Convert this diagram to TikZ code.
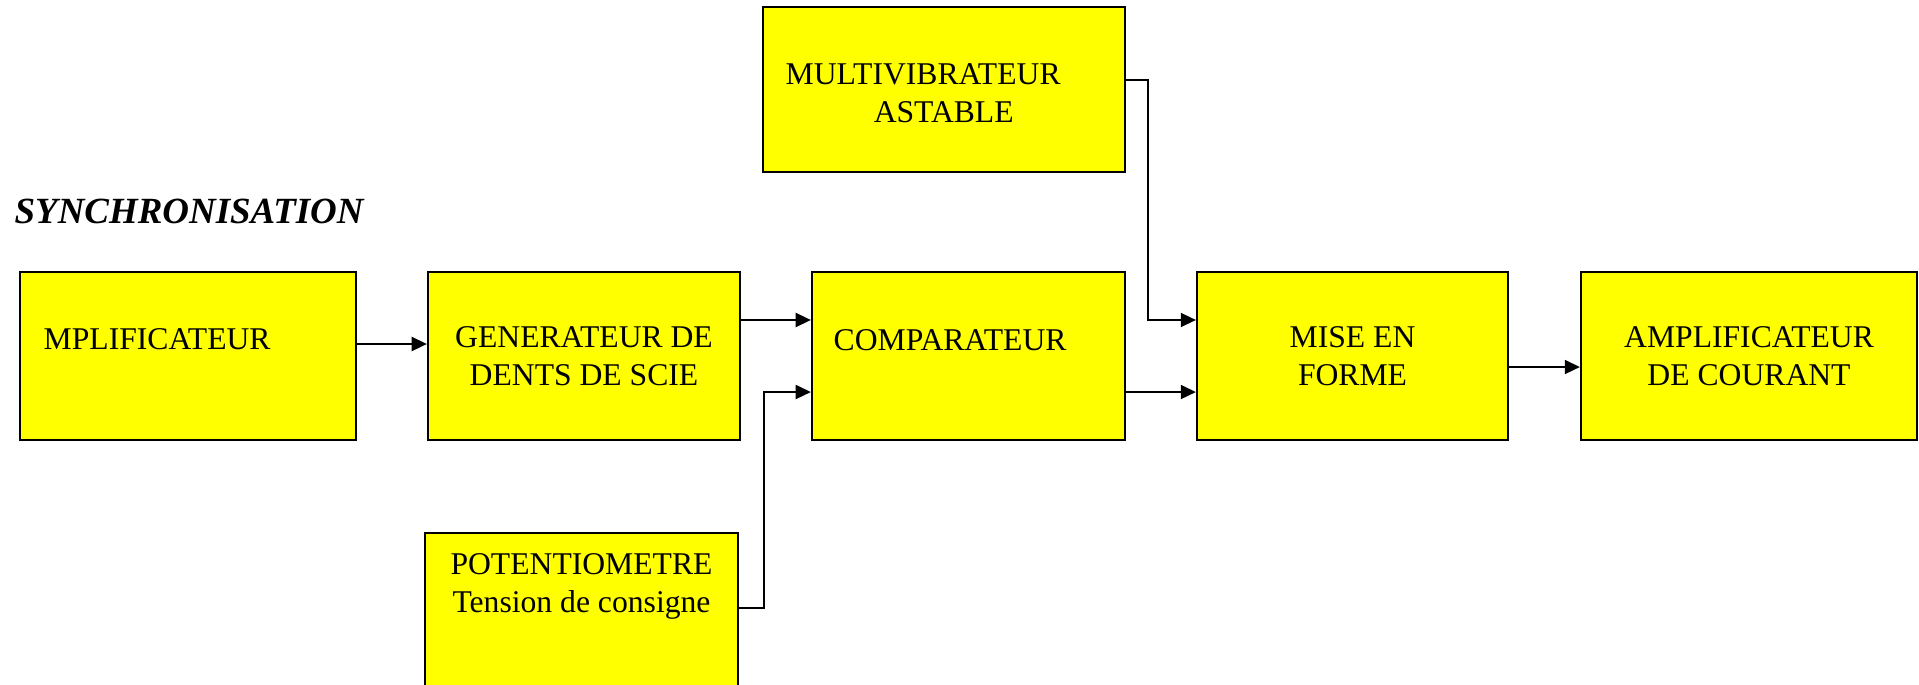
\documentclass[tikz,border=0pt]{standalone}
\usepackage{fontspec}
\setmainfont{Liberation Serif}
\usetikzlibrary{arrows.meta}
\definecolor{boxyellow}{RGB}{255,255,0}
\tikzset{
  bnode/.style = {rectangle, draw=black, fill=boxyellow, line width=0.6pt, inner sep=0pt},
  btext/.style = {inner sep=0pt, font=\fontsize{9}{10.8}\selectfont},
  link/.style = {line width=0.5pt, -{Triangle[length=4.3pt,width=4pt]}},
}
\begin{document}
\begin{tikzpicture}[x=0.01cm, y=-0.01cm]
\useasboundingbox (0,0) rectangle (1919,684);
\clip (0,0) rectangle (1919,684);
% blocks
\node [bnode, minimum width=3.36cm, minimum height=1.68cm] (ampli) at (188,356) {};
\node [bnode, minimum width=3.12cm, minimum height=1.68cm] (gen) at (584,356) {};
\node [bnode, minimum width=3.13cm, minimum height=1.68cm] (comp) at (968.5,356) {};
\node [bnode, minimum width=3.11cm, minimum height=1.68cm] (mise) at (1352.5,356) {};
\node [bnode, minimum width=3.36cm, minimum height=1.68cm] (courant) at (1749,356) {};
\node [bnode, minimum width=3.62cm, minimum height=1.65cm] (multi) at (944,89.5) {};
\node [bnode, minimum width=3.13cm, minimum height=1.68cm] (pot) at (581.5,617) {};
% texts
\node [btext, anchor=base west] (tampli) at (43,349) {MPLIFICATEUR};
\node [btext, align=center] (tgen) at (gen) {GENERATEUR DE\\DENTS DE SCIE};
\node [btext, anchor=base west] (tcomp) at (833,350) {COMPARATEUR};
\node [btext, align=center] (tmise) at (mise) {MISE EN\\FORME};
\node [btext, align=center] (tcourant) at (courant) {AMPLIFICATEUR\\DE COURANT};
\node [btext, align=left, anchor=base west] (tmulti) at (785,122) {MULTIVIBRATEUR\\\hspace{0.88cm}ASTABLE};
\node [btext, align=center, anchor=base] (tpot) at (581.5,612) {POTENTIOMETRE\\Tension de consigne};
\node [inner sep=0pt, anchor=base west, font=\fontsize{10.5}{12.6}\selectfont\bfseries\itshape] (sync) at (14,223) {SYNCHRONISATION};
% connectors
\coordinate (potturn) at (764,608);
\coordinate (multiturn) at (1148,80);
\draw [link] ([yshift=1.2mm]ampli.east) -- ([yshift=1.2mm]gen.west);
\draw [link] ([yshift=3.6mm]gen.east) -- ([yshift=3.6mm]comp.west);
\draw [link] ([yshift=0.9mm]pot.east) -- (potturn) |- ([yshift=-3.6mm]comp.west);
\draw [link] ([yshift=0.95mm]multi.east) -- (multiturn) |- ([yshift=3.6mm]mise.west);
\draw [link] ([yshift=-3.6mm]comp.east) -- ([yshift=-3.6mm]mise.west);
\draw [link] ([yshift=-1.1mm]mise.east) -- ([yshift=-1.1mm]courant.west);
\end{tikzpicture}
\end{document}
